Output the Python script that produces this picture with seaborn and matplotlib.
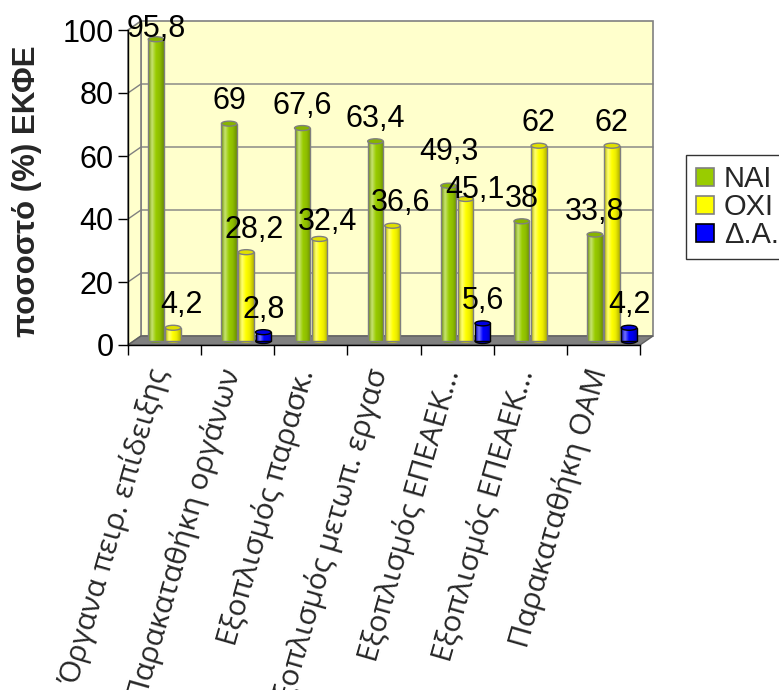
import numpy as np
import pandas as pd
import matplotlib
matplotlib.use("Agg")
import matplotlib.pyplot as plt
import seaborn as sns
from matplotlib.patches import Rectangle, Polygon, Ellipse, Patch
from matplotlib.colors import LinearSegmentedColormap, to_rgb
from matplotlib.transforms import offset_copy

# ---- data -------------------------------------------------------------
categories = [
    "Όργανα πειρ. επίδειξης",
    "Παρακαταθήκη οργάνων",
    "Εξοπλισμός παρασκ.",
    "Εξοπλισμός μετωπ. εργασ",
    "Εξοπλισμός ΕΠΕΑΕΚ...",
    "Εξοπλισμός ΕΠΕΑΕΚ...",
    "Παρακαταθήκη ΟΑΜ",
]
series_names = ["NAI", "OXI", "Δ.Α."]
nai = [95.8, 69, 67.6, 63.4, 49.3, 38, 33.8]
oxi = [4.2, 28.2, 32.4, 36.6, 45.1, 62, 62]
da = [None, 2.8, None, None, 5.6, None, 4.2]
y_ticks = [0, 20, 40, 60, 80, 100]
y_label = "ποσοστό (%) ΕΚΦΕ"

colors = {"NAI": "#99CC00", "OXI": "#FFFF00", "Δ.Α.": "#0000FF"}
edges = {"NAI": "#7f7f7f", "OXI": "#7f7f7f", "Δ.Α.": "#000000"}

rows = []
for name, vals in zip(series_names, [nai, oxi, da]):
    for i, v in enumerate(vals):
        if v is not None:
            rows.append({"cat": i, "series": name, "value": v})
df = pd.DataFrame(rows)

# ---- figure -----------------------------------------------------------
sns.set_style("white")
plt.rcParams["font.family"] = ["Liberation Sans", "DejaVu Sans"]

W, H = 779, 690
fig = plt.figure(figsize=(W / 100, H / 100), dpi=100)
ax = fig.add_axes([128 / W, 1 - 345 / H, 512 / W, 315 / H])
ax.set_facecolor("none")

sns.barplot(data=df, x="cat", y="value", hue="series", hue_order=series_names,
            order=list(range(len(categories))), palette=colors,
            width=0.70, gap=0.09, dodge=True, legend=False, ax=ax, zorder=2)

xmin, xmax = -0.5, len(categories) - 0.5
ax.set_xlim(xmin, xmax)
ax.set_ylim(0, 100)

# depth of the 3-D box in data units
px_x = (xmax - xmin) / 512.0
px_y = 100 / 315.0
dx, dy = 13 * px_x, 9 * px_y
sx, sy = 8.5 * px_x, 4 * px_y          # bars sit halfway into the depth
cap_h = 5 * px_y

wall = "#FFFFCC"
line_gray = "#808080"

# back wall, side wall, floor
ax.add_patch(Rectangle((xmin + dx, dy), xmax - xmin, 100, facecolor=wall,
                       edgecolor=line_gray, lw=1.2, zorder=0.5, clip_on=False))
ax.add_patch(Polygon([(xmin, 0), (xmin + dx, dy), (xmin + dx, 100 + dy), (xmin, 100)],
                     closed=True, facecolor=wall, edgecolor=line_gray, lw=1.2,
                     zorder=0.5, clip_on=False))
for v in y_ticks[1:-1]:
    ax.plot([xmin, xmin + dx, xmax + dx], [v, v + dy, v + dy], color=line_gray,
            lw=1.0, zorder=0.8, clip_on=False)
ax.add_patch(Polygon([(xmin, 0), (xmax, 0), (xmax + dx, dy), (xmin + dx, dy)],
                     closed=True, facecolor="#808080", edgecolor="#606060", lw=1.0,
                     zorder=0.9, clip_on=False))


def cyl_cmap(c):
    r = np.array(to_rgb(c))
    dark = r * 0.70
    light = np.clip(r + (1 - r) * 0.45, 0, 1)
    return LinearSegmentedColormap.from_list("cyl", [dark, light, r, r * 0.92, dark])


grad = np.linspace(0, 1, 64)[None, :]
label_font = dict(fontsize=22, family=["Liberation Sans", "DejaVu Sans"], color="black")

# value-label placement: gap above the cylinder, in pixels, plus a few
# hand nudges where neighbouring labels would collide
gap_px = 12
label_nudge = {(4, "NAI"): (0, 11), (4, "OXI"): (1, -14), (2, "OXI"): (0, -6)}

for name, cont in zip(series_names, ax.containers):
    c = colors[name]
    rgb = np.array(to_rgb(c))
    for i, (bar, val) in enumerate(zip(cont.patches, cont.datavalues)):
        if np.isnan(val):
            continue
        bar.set_x(bar.get_x() + sx)
        bar.set_y(sy)
        x0, w, h = bar.get_x(), bar.get_width(), bar.get_height()
        cx = x0 + w / 2
        # rounded bottom
        ax.add_patch(Ellipse((cx, sy), w, cap_h, facecolor=rgb * 0.8,
                             edgecolor=edges[name], lw=1.0, zorder=1.9))
        im = ax.imshow(grad, extent=(x0, x0 + w, sy, sy + h), cmap=cyl_cmap(c),
                       aspect="auto", interpolation="bilinear", zorder=2.0)
        im.set_clip_path(bar)
        bar.set_facecolor("none")
        bar.set_edgecolor(edges[name])
        bar.set_linewidth(1.0)
        bar.set_zorder(2.1)
        # top cap
        ax.add_patch(Ellipse((cx, sy + h), w, cap_h, facecolor=rgb * 0.88,
                             edgecolor=edges[name], lw=1.0, zorder=2.2))
        # label
        ddx, ddy = label_nudge.get((i, name), (0, 0))
        cat_idx = int(round(cx - sx))
        if name == "OXI" and nai[cat_idx] > oxi[cat_idx]:
            ddx += 8
        txt = f"{val:g}".replace(".", ",")
        ty = min(sy + h + cap_h / 2 + (gap_px + ddy) * px_y, 97.8)
        ax.text(cx + ddx * px_x, ty, txt, ha="center", va="baseline", zorder=5,
                **label_font)

ax.set_xlim(xmin, xmax)
ax.set_ylim(0, 100)

# axes
for s in ["top", "right"]:
    ax.spines[s].set_visible(False)
for s in ["left", "bottom"]:
    ax.spines[s].set_color("black")
    ax.spines[s].set_linewidth(1.0)
    ax.spines[s].set_zorder(3)

ax.set_yticks(y_ticks)
ax.set_yticklabels([str(t) for t in y_ticks], fontsize=22)
ax.tick_params(axis="y", direction="out", length=7.2, width=1.0, pad=3, colors="black", left=True)
ax.set_xticks(np.arange(xmin, xmax + 0.01, 1.0))
ax.set_xticklabels([""] * (len(categories) + 1))
ax.tick_params(axis="x", direction="out", length=7.2, width=1.0, colors="black", bottom=True)
ax.set_xlabel("")
ax.set_ylabel("")

lab_tr = offset_copy(ax.transData, fig=fig, x=-20, y=-20, units="dots")
for i, lab in enumerate(categories):
    ax.text(i, 0, lab, rotation=74, rotation_mode="anchor", ha="right", va="top",
            transform=lab_tr, fontsize=21.5, family=["Open Sans", "DejaVu Sans"],
            clip_on=False)

fig.text(27 / W, 1 - 191 / H, y_label, rotation=90, ha="center", va="center",
         fontsize=22.5, fontweight="bold")

handles = [Patch(facecolor=colors[n], edgecolor=edges[n] if n == "Δ.Α." else "#808080",
                 linewidth=1.2) for n in series_names]
leg = fig.legend(handles, series_names, loc="upper left",
                 bbox_to_anchor=(686 / W, 1 - 155 / H), fontsize=21,
                 frameon=True, fancybox=False, edgecolor="black",
                 handlelength=0.6, handleheight=0.6, handletextpad=0.35,
                 labelspacing=0.0, borderpad=0.35, borderaxespad=0)
leg.get_frame().set_linewidth(1.0)

fig.savefig("out.png", dpi=100)
